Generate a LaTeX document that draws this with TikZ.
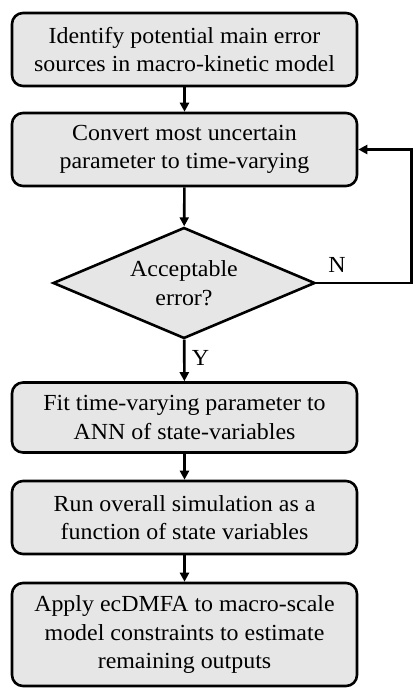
\documentclass[tikz,border=0pt]{standalone}
\usepackage{fontspec}
\setmainfont[FakeStretch=1.04]{Liberation Serif}
\usetikzlibrary{positioning,arrows.meta,shapes.geometric}
\definecolor{boxgray}{RGB}{230,230,230}
\tikzset{
  wire/.style={line width=2.6pt, -{Triangle[length=9pt,width=9pt]}},
  line/.style={line width=2.6pt},
  stepbox/.style={draw, fill=boxgray, line width=2.6pt, rounded corners=11pt,
    minimum width=345pt, align=center, inner sep=2pt,
    font=\fontsize{23}{28.5}\selectfont},
  decision/.style={draw, fill=boxgray, line width=2.6pt, diamond, aspect=2.35,
    minimum width=262pt, minimum height=111pt, inner sep=0pt, align=center,
    font=\fontsize{23}{28.5}\selectfont},
  lab/.style={font=\fontsize{23}{28.5}\selectfont}
}
\begin{document}
\begin{tikzpicture}[x=1pt,y=-1pt]
  \useasboundingbox (0,0) rectangle (414,688);
  % steps
  \node[stepbox, minimum height=73pt] (ident) at (184.5,49.5)
    {Identify potential main error\\sources in macro-kinetic model};
  \node[stepbox, minimum height=73pt] (conv) at (184.5,149.5)
    {Convert most uncertain\\parameter to time-varying};
  \node[decision] (accept) at (184,283) {Acceptable\\error?};
  \node[stepbox, minimum height=70pt] (fitann) at (184.5,417.5)
    {Fit time-varying parameter to\\ANN of state-variables};
  \node[stepbox, minimum height=73pt] (runsim) at (184.5,517.5)
    {Run overall simulation as a\\function of state variables};
  \node[stepbox, minimum height=103pt] (apply) at (184.5,634.5)
    {Apply ecDMFA to macro-scale\\model constraints to estimate\\remaining outputs};
  % connectors
  \draw[wire] (ident) -- (conv);
  \draw[wire] (conv) -- (accept);
  \draw[wire] (accept) -- node[lab, right=3pt, pos=0.45] (yes) {Y} (fitann);
  \draw[wire] (fitann) -- (runsim);
  \draw[wire] (runsim) -- (apply);
  % loop back
  \coordinate (back1) at (411.5,283);
  \coordinate (back2) at (411.5,149.5);
  \draw[wire] (accept.east) -- (back1) -- (back2) -- (conv.east);
  \node[lab] (no) at (337,265) {N};
\end{tikzpicture}
\end{document}
